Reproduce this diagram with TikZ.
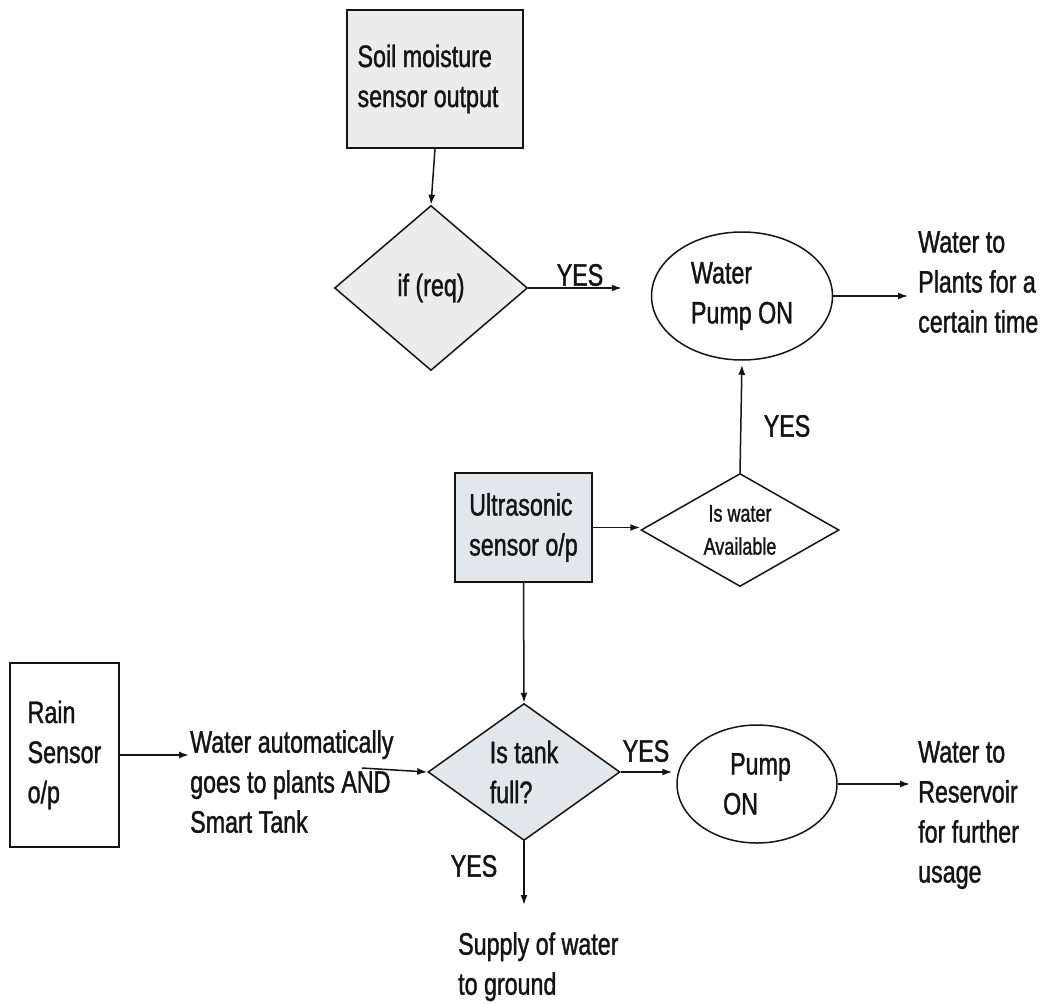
\documentclass[tikz,border=0pt]{standalone}
\usepackage{fontspec}
\setmainfont[FakeStretch=0.75,FakeBold=1.2]{Liberation Sans}
\usetikzlibrary{shapes.geometric,arrows.meta}
\definecolor{boxgray}{RGB}{236,236,236}
\definecolor{bluegray}{RGB}{226,231,236}
\definecolor{inkblack}{RGB}{20,20,20}
\begin{document}
\begin{tikzpicture}[x=1pt,y=-1pt,
  every node/.style={font=\fontsize{31}{40}\selectfont, text=inkblack},
  shp/.style={draw=inkblack, line width=1.5pt, inner sep=0pt, align=left},
  rbox/.style={shp, rectangle},
  dia/.style={shp, diamond},
  ell/.style={shp, ellipse},
  lbl/.style={inner sep=0pt, align=left},
  arr/.style={draw=inkblack, line width=1.5pt, -{Latex[length=10pt,width=7pt]}},
]
\fill[white] (0,0) rectangle (1059,1003);
\useasboundingbox (0,0) rectangle (1059,1003);

% shapes
\node[rbox, fill=boxgray, minimum width=176, minimum height=138] (soil) at (435,79) {Soil moisture\\sensor output\hspace*{14pt}};
\node[dia, fill=boxgray, minimum width=193, minimum height=165, aspect=1.2] (req) at (431,288) {if (req)};
\node[ell, fill=white, minimum width=181, minimum height=128] (pump1) at (742,296) {Water\\Pump ON};
\node[rbox, fill=bluegray, minimum width=137, minimum height=109] (ultra) at (523.5,527.5) {Ultrasonic\\sensor o/p};
\node[dia, fill=white, minimum width=198, minimum height=113, aspect=2, align=center,
      font=\fontsize{24}{33}\selectfont] (avail) at (740,530) {Is water\\Available};
\node[rbox, fill=white, minimum width=109, minimum height=184] (rain) at (64.5,755) {Rain\\Sensor\hspace*{10pt}\\o/p};
\node[dia, fill=bluegray, minimum width=192, minimum height=137, aspect=1.4] (tank) at (524,772) {Is tank\\full?};
\node[ell, fill=white, minimum width=160, minimum height=118] (pump2) at (757,784) {\hspace*{7pt}Pump\\ON};

% free texts
\node[lbl, anchor=north west] (plants) at (918,231) {Water to\\Plants for a\\certain time};
\node[lbl, anchor=north west] (wauto) at (190,730) {Water automatically\\goes to plants AND\\Smart Tank};
\node[lbl, anchor=north west] (reserv) at (918,741) {Water to\\Reservoir\\for further\\usage};
\node[lbl, anchor=north west] (supply) at (458,932) {Supply of water\\to ground};

% YES labels
\node[lbl] (yes1) at (580,275) {YES};
\node[lbl] (yes2) at (787,426) {YES};
\node[lbl] (yes3) at (646,751) {YES};
\node[lbl] (yes4) at (474,866) {YES};

\coordinate (wa) at (362,768);

% connectors
\draw[arr] (soil.south) -- (req.north);
\draw[arr, shorten >=29pt] (req.east) -- (req.east -| pump1.west);
\draw[arr, shorten >=10pt] (pump1.east) -- (pump1.east -| plants.west);
\draw[arr] (ultra.east) -- (ultra.east -| avail.west);
\draw[arr, shorten >=4pt] (avail.north) -- (pump1.south);
\draw[arr] (ultra.south) -- (tank.north);
\draw[arr, shorten >=1pt] (rain.east) -- (rain.east -| wauto.west);
\draw[arr] (wa) -- (tank.west);
\draw[arr, shorten >=4pt] (tank.east) -- (tank.east -| pump2.west);
\draw[arr, shorten >=8pt] (pump2.east) -- (pump2.east -| reserv.west);
\draw[arr, shorten >=27pt] (tank.south) -- (tank.south |- supply.north);
\end{tikzpicture}
\end{document}
